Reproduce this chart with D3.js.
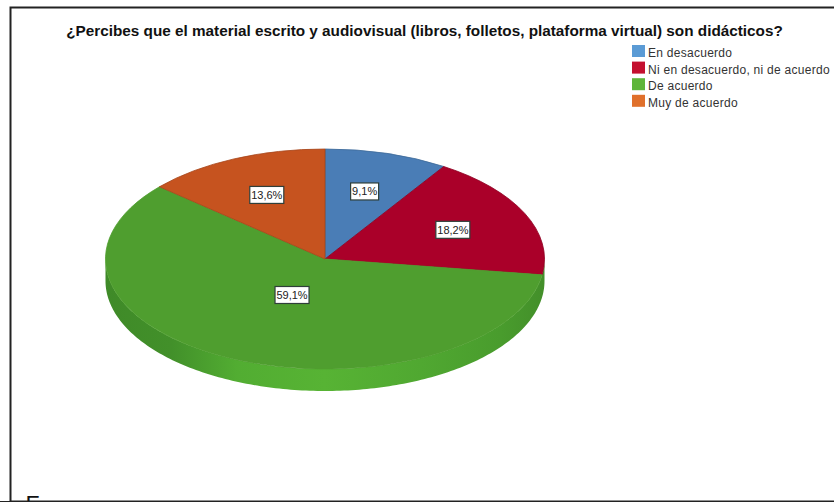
<!DOCTYPE html>
<html>
<head>
<meta charset="utf-8">
<script src="https://cdn.jsdelivr.net/npm/d3@7/dist/d3.min.js"></script>
<style>
  html, body { margin: 0; padding: 0; background: #fff; }
  svg { display: block; font-family: "Liberation Sans", Arial, sans-serif; }
</style>
</head>
<body>
<svg id="chart" width="834" height="502"></svg>
<script>
const chartTitle = "¿Percibes que el material escrito y audiovisual (libros, folletos, plataforma virtual) son didácticos?";
const categories = ["En desacuerdo", "Ni en desacuerdo, ni de acuerdo", "De acuerdo", "Muy de acuerdo"];
const shares = [9.1, 18.2, 59.1, 13.6];
const shareLabels = ["9,1%", "18,2%", "59,1%", "13,6%"];
const topColors = ["#4a7db6", "#aa0029", "#4f9e2f", "#c6531f"];
const legendColors = ["#5b9bd5", "#c4102f", "#5fb53a", "#e0702b"];

const width = 834, height = 502;
const cx = 325, cy = 259, rx = 219.5, ry = 110, depth = 22;
const tilt = ry / rx;

const svg = d3.select("#chart");

// Pie layout runs clockwise from twelve o'clock in the given order.
const slices = d3.pie().sort(null).value(d => d)(shares);
const arc = d3.arc().innerRadius(0).outerRadius(rx);

// Side wall shading: dark at the left end, bright under the front, fading into the top at the right.
const defs = svg.append("defs");
const wallShade = defs.append("linearGradient")
  .attr("id", "wall-shade")
  .attr("gradientUnits", "userSpaceOnUse")
  .attr("x1", cx - rx).attr("x2", cx + rx).attr("y1", 0).attr("y2", 0);
[[0, "#3f8a28"], [0.15, "#42902a"], [0.3, "#52ad32"], [0.5, "#57b334"], [0.72, "#50a831"], [0.9, "#499c2d"], [1, "#438f2a"]]
  .forEach(([o, c]) => wallShade.append("stop").attr("offset", o).attr("stop-color", c));

// Frame around the chart: only the left, top and bottom rules fall inside the page.
svg.append("path")
  .attr("d", d3.line()([[width, 7.5], [10.5, 7.5], [10.5, height - 0.5], [width, height - 0.5]]))
  .attr("fill", "none").attr("stroke", "#222").attr("stroke-width", 2);

svg.append("text")
  .attr("x", 25.5).attr("y", 513)
  .attr("font-size", 23).attr("fill", "#111")
  .text("F");
svg.append("rect").attr("x", 0).attr("y", height - 1).attr("width", width).attr("height", 1).attr("fill", "#222");

svg.append("text")
  .attr("x", 424.5).attr("y", 36)
  .attr("text-anchor", "middle")
  .attr("font-size", 15.3).attr("font-weight", "bold").attr("fill", "#111")
  .text(chartTitle);

// Wall: the visible rim band for the front half of the ellipse.
const rimPoint = (a, dy) => [cx + rx * Math.sin(a), cy + dy - ry * Math.cos(a)];
const rimAngles = d3.range(Math.PI / 2, 3 * Math.PI / 2 + 0.001, Math.PI / 180);
const wallPath = d3.line()([
  ...rimAngles.map(a => rimPoint(a, 0)),
  ...rimAngles.slice().reverse().map(a => rimPoint(a, depth))
]) + "Z";
svg.append("path").attr("d", wallPath).attr("fill", "url(#wall-shade)");

// Top face: a circular pie flattened into the ellipse, red and blue edged a shade darker.
const pieFace = svg.append("g").attr("transform", `translate(${cx},${cy}) scale(1,${tilt})`);
pieFace.selectAll("path")
  .data(slices)
  .join("path")
  .attr("d", arc)
  .attr("fill", (d, i) => topColors[i])
  .attr("stroke", (d, i) => d.value > 50 ? topColors[i] : d3.color(topColors[i]).darker(0.5))
  .attr("stroke-width", 0.8)
  .attr("vector-effect", "non-scaling-stroke");

// Value tags; the large slice keeps its tag nearer the centre.
const tags = svg.append("g").selectAll("g")
  .data(slices)
  .join("g")
  .attr("transform", d => {
    const mid = (d.startAngle + d.endAngle) / 2;
    const k = d.value > 50 ? 0.36 : 0.64;
    return `translate(${cx + k * rx * Math.sin(mid)},${cy - k * ry * Math.cos(mid)})`;
  });
tags.append("rect")
  .attr("x", (d, i) => -(shareLabels[i].length === 4 ? 14 : 17))
  .attr("width", (d, i) => shareLabels[i].length === 4 ? 28 : 34)
  .attr("y", -8.5).attr("height", 17)
  .attr("fill", "#fff").attr("stroke", "#2f3f3a").attr("stroke-width", 1.2);
tags.append("text")
  .attr("text-anchor", "middle").attr("y", 4)
  .attr("font-size", 11).attr("fill", "#222")
  .text((d, i) => shareLabels[i]);

// Legend
const legend = svg.append("g").selectAll("g")
  .data(categories)
  .join("g")
  .attr("transform", (d, i) => `translate(632,${45 + i * 16.6})`);
legend.append("rect")
  .attr("width", 13).attr("height", 12)
  .attr("fill", (d, i) => legendColors[i]);
legend.append("text")
  .attr("x", 16).attr("y", 12)
  .attr("font-size", 12).attr("letter-spacing", 0.27).attr("fill", "#333")
  .text(d => d);
</script>
</body>
</html>
